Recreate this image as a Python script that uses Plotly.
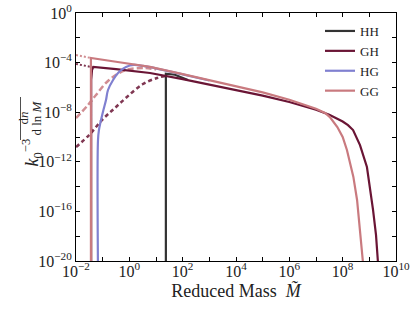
import plotly.graph_objects as go

# ---- data (log10 values) ----
gg_logm = [-1.44, -1.44, -0.5, 0.775, 2, 3, 4, 5, 6, 7, 7.34, 7.52, 7.8, 8.0, 8.16, 8.3, 8.4, 8.54, 8.65, 8.76, 8.80]
gg_logy = [-21, -3.63, -3.93, -4.35, -4.93, -5.42, -5.9, -6.4, -7.0, -7.72, -8.06, -8.39, -9.2, -10.0, -11.05, -12.2, -13.2, -15.08, -17.3, -20, -21]

gh_logm = [-1.43, -1.43, -1.40, -1.35, -0.5, 0.775, 2, 3, 4, 5, 6, 7, 7.5, 8, 8.2, 8.39, 8.65, 8.91, 9.14, 9.25, 9.32, 9.36]
gh_logy = [-21, -5.4, -4.6, -4.35, -4.52, -4.84, -5.33, -5.76, -6.2, -6.66, -7.18, -7.8, -8.2, -8.75, -9.05, -9.44, -10.65, -12.42, -15.9, -17.9, -20, -21]

hg_logm = [-1.175, -1.175, -1.14, -0.99, -0.875, -0.8, -0.61, -0.39, -0.125, 0.175, 0.51, 0.775, 2, 3]
hg_logy = [-21, -10.24, -9.44, -7.98, -7.02, -6.21, -5.40, -4.76, -4.35, -4.19, -4.27, -4.37, -4.95, -5.44]

hh_logm = [1.37, 1.37, 1.71, 2.2]
hh_logy = [-21, -4.9, -4.98, -5.4]

gg_dot_logm = [-2, -1.44]
gg_dot_logy = [-3.39, -3.63]
gh_dot_logm = [-2, -1.38]
gh_dot_logy = [-4.11, -4.37]

gg_dash_logm = [-2, -1.55, -1.25, -0.76, -0.125, 0.59, 1.0]
gg_dash_logy = [-8.47, -7.42, -6.61, -5.40, -4.60, -4.44, -4.55]
gh_dash_logm = [-2, -1.51, -0.99, -0.54, -0.09, 0.51, 1.04, 1.34]
gh_dash_logy = [-10.81, -9.84, -8.55, -7.66, -6.77, -5.73, -5.24, -5.08]

x_major_exp = [-2, 0, 2, 4, 6, 8, 10]
x_minor_exp = [-1, 1, 3, 5, 7, 9]
y_major_exp = [-20, -16, -12, -8, -4, 0]
y_minor_exp = [-18, -14, -10, -6, -2]

C_HH = "#333333"
C_GH = "#6a1535"
C_HG = "#8080d0"
C_GG = "#c97a7f"

def p(v):
    return [10 ** e for e in v]

fig = go.Figure()

fig.add_trace(go.Scatter(x=p(gh_dash_logm), y=p(gh_dash_logy), mode="lines", showlegend=False,
                         line=dict(color=C_GH, width=2.5, dash="4px,3px", shape="spline"), opacity=0.85))
fig.add_trace(go.Scatter(x=p(gg_dash_logm), y=p(gg_dash_logy), mode="lines", showlegend=False,
                         line=dict(color=C_GG, width=2.5, dash="6px,3px", shape="spline"), opacity=0.85))
fig.add_trace(go.Scatter(x=p(gh_dot_logm), y=p(gh_dot_logy), mode="lines", showlegend=False,
                         line=dict(color=C_GH, width=2, dash="2px,2px"), opacity=0.85))
fig.add_trace(go.Scatter(x=p(gg_dot_logm), y=p(gg_dot_logy), mode="lines", showlegend=False,
                         line=dict(color=C_GG, width=2, dash="2px,2px"), opacity=0.85))

fig.add_trace(go.Scatter(x=p(hh_logm), y=p(hh_logy), mode="lines", name="HH",
                         line=dict(color=C_HH, width=2.2)))
fig.add_trace(go.Scatter(x=p(gh_logm), y=p(gh_logy), mode="lines", name="GH",
                         line=dict(color=C_GH, width=2.2)))
fig.add_trace(go.Scatter(x=p(hg_logm), y=p(hg_logy), mode="lines", name="HG",
                         line=dict(color=C_HG, width=2.2, shape="spline")))
fig.add_trace(go.Scatter(x=p(gg_logm), y=p(gg_logy), mode="lines", name="GG",
                         line=dict(color=C_GG, width=2.2)))

FONT = "Liberation Serif"

def lab(e):
    s = str(e).replace("-", "\u2212")
    return f"10<sup>{s}</sup>"

# figure fills the 415x310 window (page margin removed below)
W, H = 415, 310
L, R, T, B = 76, 19, 13, 49
pw, ph = W - L - R, H - T - B

def px(sx):
    return (sx - L) / pw

def py(sy):
    return (H - B - sy) / ph

fig.update_xaxes(type="log", range=[-2, 10], automargin=False,
                 tickvals=[10 ** e for e in x_major_exp],
                 ticktext=[lab(e) for e in x_major_exp],
                 ticks="inside", ticklen=4, tickcolor="black",
                 minor=dict(tickvals=[10 ** e for e in x_minor_exp], ticks="inside",
                            ticklen=4, tickcolor="black", showgrid=False),
                 showline=True, linecolor="black", linewidth=1, mirror="ticks",
                 showgrid=False, zeroline=False, ticklabelstandoff=-4,
                 ticklabeloverflow="allow",
                 tickfont=dict(family=FONT, size=16, color="#222"),
                 title=dict(text="Reduced Mass &nbsp;<i>M\u0303</i>", standoff=5,
                            font=dict(family=FONT, size=18, color="#222")))
fig.update_yaxes(type="log", range=[-20, 0], automargin=False,
                 tickvals=[10 ** e for e in y_major_exp],
                 ticktext=[lab(e) for e in y_major_exp],
                 ticks="inside", ticklen=4, tickcolor="black",
                 minor=dict(tickvals=[10 ** e for e in y_minor_exp], ticks="inside",
                            ticklen=4, tickcolor="black", showgrid=False),
                 showline=True, linecolor="black", linewidth=1, mirror="ticks",
                 showgrid=False, zeroline=False, ticklabeloverflow="allow",
                 tickfont=dict(family=FONT, size=16, color="#222"))

# y label built from pieces (fraction)
fig.add_annotation(x=px(17), y=py(153), xref="paper", yref="paper", showarrow=False,
                   text="<i>k</i><sub>0</sub><sup>\u22123</sup>", textangle=-90,
                   font=dict(family=FONT, size=18, color="#222"))
fig.add_annotation(x=px(14), y=py(118), xref="paper", yref="paper", showarrow=False,
                   text="d<i>n</i>", textangle=-90,
                   font=dict(family=FONT, size=13, color="#222"))
fig.add_annotation(x=px(27), y=py(118), xref="paper", yref="paper", showarrow=False,
                   text="d ln <i>M</i>", textangle=-90,
                   font=dict(family=FONT, size=13, color="#222"))
fig.add_shape(type="line", xref="paper", yref="paper",
              x0=px(20.5), x1=px(20.5), y0=py(97), y1=py(140),
              line=dict(color="#222", width=0.8))

fig.update_layout(width=W, height=H, margin=dict(l=L, r=R, t=T, b=B, autoexpand=False),
                  paper_bgcolor="white", plot_bgcolor="white",
                  legend=dict(x=px(320), y=py(16), xanchor="left", yanchor="top",
                              bgcolor="rgba(0,0,0,0)",
                              font=dict(family=FONT, size=13, color="#222")))

fig.write_html("out.html", config={"displayModeBar": False},
               post_script="document.body.style.margin='0';"
                           "document.documentElement.style.overflow='hidden';")
